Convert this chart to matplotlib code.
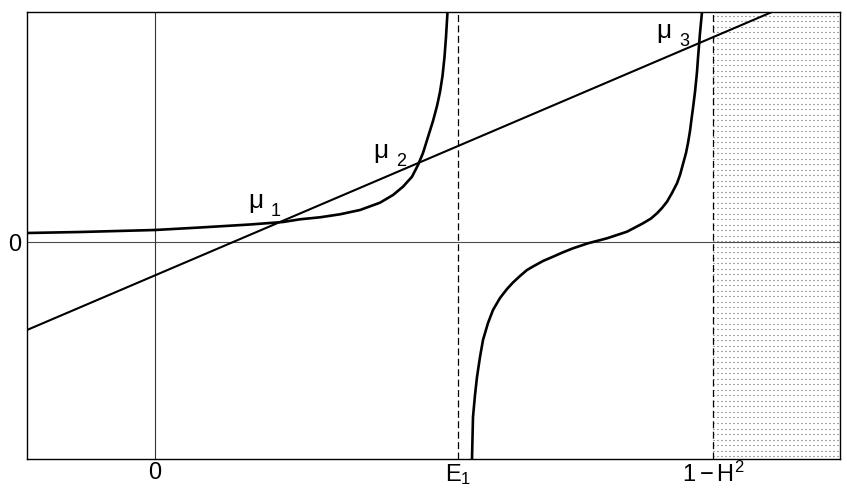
import numpy as np
import matplotlib
matplotlib.use("Agg")
import matplotlib.pyplot as plt

plt.rcParams['font.family'] = ['Liberation Sans', 'DejaVu Sans']
plt.rcParams['mathtext.fontset'] = 'custom'
plt.rcParams['mathtext.rm'] = 'Liberation Sans'
plt.rcParams['mathtext.it'] = 'Liberation Sans:italic'
plt.rcParams['mathtext.bf'] = 'Liberation Sans:bold'
plt.rcParams['lines.scale_dashes'] = False

# posicoes das assintotas / marcas do eixo x
E1 = 3.03
limite = 5.58          # 1 - H^2
x_min, x_max = -1.28, 6.85
y_min, y_max = -2.17, 2.30

# ramo esquerdo da curva (antes de E1)
ramo1_x = [-1.28, -0.75, 0.0, 0.45, 0.95, 1.28, 1.45, 1.65, 1.85, 2.05, 2.25,
           2.38, 2.48, 2.57, 2.63, 2.68, 2.73, 2.78, 2.82, 2.85, 2.875, 2.895,
           2.91, 2.925]
ramo1_y = [0.09, 0.10, 0.12, 0.145, 0.175, 0.20, 0.227, 0.247, 0.277, 0.32, 0.393,
           0.47, 0.553, 0.653, 0.77, 0.89, 1.05, 1.21, 1.36, 1.50, 1.66, 1.85,
           2.05, 2.30]

# ramo direito da curva (entre E1 e 1-H^2)
ramo2_x = [3.17, 3.18, 3.20, 3.22, 3.25, 3.28, 3.33, 3.38, 3.45, 3.52, 3.58,
           3.65, 3.72, 3.78, 3.88, 3.98, 4.08, 4.18, 4.33, 4.52, 4.72, 4.88,
           4.96, 5.02, 5.07, 5.12, 5.17, 5.22, 5.25, 5.28, 5.31, 5.33, 5.35,
           5.36, 5.38, 5.40, 5.42, 5.43, 5.45, 5.47]
ramo2_y = [-2.17, -1.75, -1.53, -1.35, -1.15, -0.98, -0.81, -0.68, -0.56, -0.47,
           -0.405, -0.34, -0.28, -0.245, -0.19, -0.147, -0.103, -0.063, -0.013,
           0.037, 0.103, 0.187, 0.235, 0.287, 0.34, 0.403, 0.49, 0.587, 0.67,
           0.78, 0.89, 0.99, 1.11, 1.19, 1.34, 1.50, 1.70, 1.84, 2.09, 2.30]

# reta
reta_x = [-1.28, 6.17]
reta_y = [-0.88, 2.30]

# rotulos das intersecoes
mu_sub = ['1', '2', '3']
mu_x = [0.93, 2.18, 5.01]
mu_y = [0.34, 0.84, 2.04]

xtick_pos = [0.0, E1, limite]
xtick_lab = ['0', r'$\mathregular{E_1}$', r'$\mathregular{1-H^2}$']

fig = plt.figure(figsize=(8.47, 4.98), dpi=100)
ax = fig.add_axes([27/847, 39/498, 813/847, 447/498])

# regiao pontilhada a direita de 1-H^2
for yy in np.arange(y_min + 0.03, y_max, 0.055):
    ax.plot([limite, x_max], [yy, yy], color='0.3', lw=0.8,
            dashes=(0.72, 2.16), dash_capstyle='butt')

# eixos de referencia
ax.axhline(0, color='0.3', lw=0.8)
ax.axvline(0, color='0.2', lw=0.8)
ax.axvline(E1, color='k', lw=0.9, dashes=(5, 2.5))
ax.axvline(limite, color='k', lw=0.9, dashes=(5, 2.5))

# curvas
ax.plot(ramo1_x, ramo1_y, color='k', lw=1.9)
ax.plot(ramo2_x, ramo2_y, color='k', lw=1.9)
ax.plot(reta_x, reta_y, color='k', lw=1.5)

for sub, xx, yy in zip(mu_sub, mu_x, mu_y):
    ax.text(xx, yy, '\u03bc', fontsize=19, ha='left', va='baseline')
    ax.annotate(sub, xy=(xx, yy), xytext=(16.5, -5.8), textcoords='offset points',
                fontsize=13, ha='left', va='baseline')

ax.set_xlim(x_min, x_max)
ax.set_ylim(y_min, y_max)
ax.set_xticks(xtick_pos)
ax.set_xticklabels(xtick_lab, fontsize=17)
ax.set_yticks([0])
ax.set_yticklabels(['0'], fontsize=17)
ax.tick_params(length=0)
ax.tick_params(axis='x', pad=2)
ax.tick_params(axis='y', pad=4)
for s in ax.spines.values():
    s.set_linewidth(1.0)

fig.savefig('out.png', dpi=100)
